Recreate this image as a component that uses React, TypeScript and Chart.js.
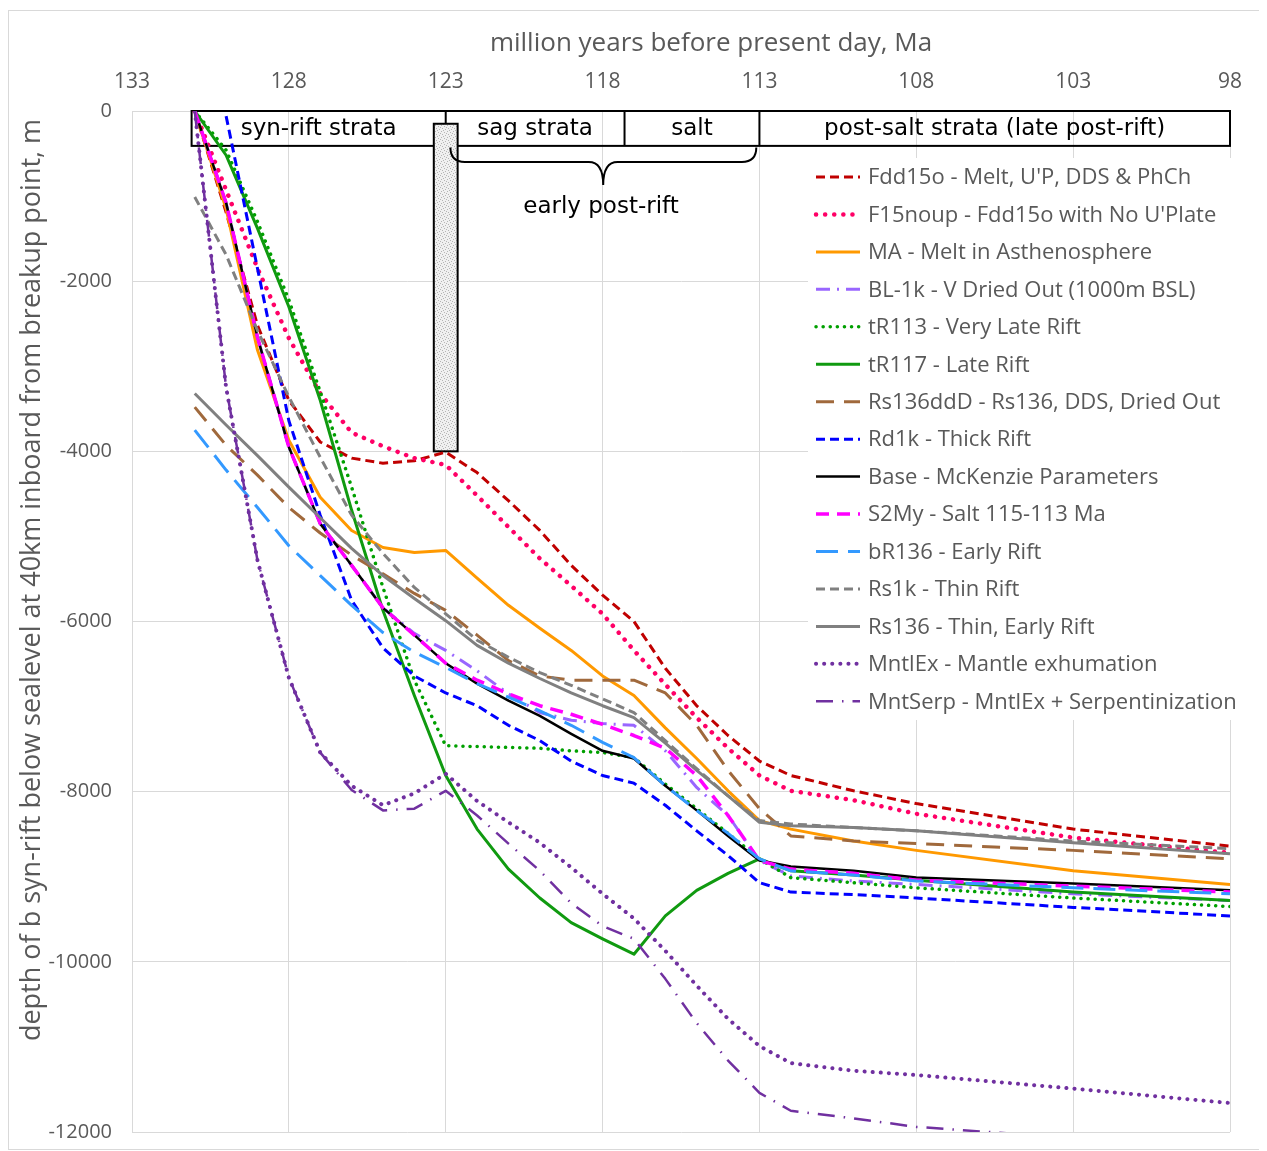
import { useEffect, useRef } from "react";
import { Chart, registerables } from "chart.js";

Chart.register(...registerables);

// ---------- data ----------
const xTickValues = [133, 128, 123, 118, 113, 108, 103, 98];
const yTickValues = [0, -2000, -4000, -6000, -8000, -10000, -12000];

const ageMa = [131, 130, 129, 128, 127, 126, 125, 124, 123, 122, 121, 120, 119, 118, 117, 116, 115, 114, 113, 112, 110, 108, 103, 98];

const fdd15o = [0, -1190, -2520, -3400, -3890, -4080, -4140, -4110, -4010, -4250, -4580, -4930, -5340, -5690, -6000, -6550, -6990, -7340, -7640, -7810, -7990, -8140, -8440, -8640];
const f15noup = [0, -930, -1850, -2670, -3320, -3780, -3940, -4080, -4160, -4520, -4890, -5260, -5580, -5910, -6340, -6740, -7130, -7490, -7810, -7990, -8100, -8260, -8540, -8720];
const maMelt = [0, -1150, -2810, -3870, -4540, -4930, -5130, -5190, -5165, -5490, -5810, -6080, -6340, -6640, -6870, -7250, -7610, -7990, -8340, -8440, -8580, -8690, -8930, -9090];
const bl1k = [0, -1080, -2660, -3950, -4850, -5340, -5840, -6140, -6340, -6580, -6850, -7070, -7160, -7200, -7220, -7520, -7950, -8280, -8810, -8990, -9050, -9090, -9200, -9280];
const tR113 = [0, -460, -1300, -2220, -3300, -4420, -5600, -6690, -7460, -7470, -7480, -7490, -7520, -7540, -7600, -7910, -8200, -8490, -8790, -9010, -9070, -9130, -9250, -9350];
const tR117 = [0, -520, -1380, -2300, -3400, -4690, -5870, -6870, -7810, -8440, -8910, -9250, -9540, -9730, -9910, -9460, -9160, -8960, -8790, -8930, -8980, -9040, -9180, -9280];
const rs136ddD = [-3480, -3930, -4280, -4660, -4960, -5220, -5440, -5670, -5870, -6160, -6460, -6640, -6690, -6690, -6690, -6840, -7220, -7750, -8200, -8520, -8580, -8610, -8690, -8790];
const rd1k = [null, -60, -1850, -3640, -4750, -5750, -6310, -6640, -6840, -6990, -7220, -7400, -7640, -7810, -7900, -8160, -8460, -8750, -9070, -9180, -9210, -9250, -9360, -9460];
const baseMcK = [0, -1080, -2660, -3950, -4850, -5340, -5840, -6160, -6490, -6730, -6930, -7110, -7320, -7520, -7610, -7930, -8220, -8520, -8810, -8880, -8930, -9010, -9080, -9160];
const s2My = [0, -1080, -2660, -3950, -4850, -5340, -5840, -6160, -6490, -6690, -6850, -6990, -7090, -7210, -7340, -7490, -7810, -8280, -8810, -8910, -8960, -9040, -9110, -9180];
const bR136 = [-3750, -4220, -4660, -5110, -5460, -5810, -6130, -6360, -6540, -6730, -6890, -7050, -7220, -7420, -7600, -7930, -8220, -8490, -8790, -8930, -8980, -9050, -9130, -9200];
const rs1k = [-1010, -1690, -2580, -3360, -4070, -4750, -5200, -5600, -5910, -6220, -6420, -6600, -6750, -6910, -7070, -7400, -7730, -8050, -8340, -8380, -8420, -8460, -8580, -8670];
const rs136 = [-3320, -3690, -4050, -4420, -4780, -5140, -5460, -5730, -5990, -6280, -6490, -6670, -6840, -6990, -7130, -7430, -7750, -8050, -8360, -8400, -8420, -8460, -8600, -8730];
const mntlEx = [0, -3250, -5280, -6660, -7540, -7930, -8160, -8020, -7790, -8110, -8360, -8600, -8890, -9200, -9490, -9870, -10280, -10670, -10990, -11190, -11280, -11330, -11490, -11660];
const mntSerp = [0, -3250, -5280, -6660, -7540, -7980, -8220, -8200, -7990, -8280, -8610, -8930, -9310, -9580, -9730, -10200, -10720, -11160, -11540, -11750, -11840, -11940, -12070, -12200];

const seriesNames = [
  "Fdd15o - Melt, U'P, DDS & PhCh",
  "F15noup - Fdd15o with No U'Plate",
  "MA - Melt in Asthenosphere",
  "BL-1k - V Dried Out (1000m BSL)",
  "tR113 - Very Late Rift",
  "tR117 - Late Rift",
  "Rs136ddD - Rs136, DDS, Dried Out",
  "Rd1k - Thick Rift",
  "Base - McKenzie Parameters",
  "S2My - Salt 115-113 Ma",
  "bR136 - Early Rift",
  "Rs1k - Thin Rift",
  "Rs136 - Thin, Early Rift",
  "MntlEx - Mantle exhumation",
  "MntSerp - MntlEx + Serpentinization",
];
const seriesValues = [fdd15o, f15noup, maMelt, bl1k, tR113, tR117, rs136ddD, rd1k, baseMcK, s2My, bR136, rs1k, rs136, mntlEx, mntSerp];

const strataLabels = ["syn-rift strata", "sag strata", "salt", "post-salt strata (late post-rift)"];
const strataBounds = [131.1, 123, 117.3, 113, 98];
const braceLabel = "early post-rift";
const xTitle = "million years before present day, Ma";
const yTitle = "depth of b syn-rift below sealevel at 40km inboard from breakup point, m";

// ---------- styles ----------
type Style = { color: string; width: number; dash: number[]; cap: CanvasLineCap };
const styles: Style[] = [
  { color: "#C00000", width: 3, dash: [9, 5], cap: "butt" },
  { color: "#FF0066", width: 4.5, dash: [0.1, 9], cap: "round" },
  { color: "#FF9900", width: 3, dash: [], cap: "butt" },
  { color: "#9966FF", width: 3, dash: [14, 7, 2, 7], cap: "butt" },
  { color: "#00A000", width: 3.5, dash: [0.1, 7], cap: "round" },
  { color: "#109A10", width: 3, dash: [], cap: "butt" },
  { color: "#A0693C", width: 3, dash: [18, 10], cap: "butt" },
  { color: "#0000FF", width: 3, dash: [9, 5], cap: "butt" },
  { color: "#000000", width: 2.5, dash: [], cap: "butt" },
  { color: "#FF00FF", width: 3.5, dash: [13, 8], cap: "butt" },
  { color: "#3399FF", width: 3, dash: [22, 10], cap: "butt" },
  { color: "#808080", width: 3, dash: [9, 5], cap: "butt" },
  { color: "#808080", width: 3, dash: [], cap: "butt" },
  { color: "#7030A0", width: 4, dash: [0.1, 8], cap: "round" },
  { color: "#7030A0", width: 2.5, dash: [17, 9, 1.5, 9], cap: "butt" },
];

const TEXT_GREY = "#595959";
const GRID = "#D9D9D9";
const CANVAS_W = 1255;
const CANVAS_H = 1138;

function makeStipple(ctx: CanvasRenderingContext2D) {
  const c = document.createElement("canvas");
  c.width = 6;
  c.height = 6;
  const p = c.getContext("2d")!;
  p.fillStyle = "#F0F0F0";
  p.fillRect(0, 0, 6, 6);
  p.fillStyle = "#B4B4B4";
  const dots = [[0, 0], [3, 1], [1, 3], [4, 4], [5, 2], [2, 5]];
  dots.forEach(([a, b]) => p.fillRect(a, b, 1, 1));
  return ctx.createPattern(c, "repeat");
}

const annotationPlugin = {
  id: "strataAnnotations",
  beforeDatasetsDraw(chart: any) {
    const { ctx, scales } = chart;
    const X = (v: number) => scales.x.getPixelForValue(v);
    const Y = (v: number) => scales.y.getPixelForValue(v);
    ctx.save();
    // strata strip
    const yTop = Y(0);
    const yBot = Y(-410);
    ctx.strokeStyle = "#000";
    ctx.lineWidth = 2;
    ctx.strokeRect(X(strataBounds[0]), yTop, X(strataBounds[4]) - X(strataBounds[0]), yBot - yTop);
    for (let i = 1; i < 4; i++) {
      ctx.beginPath();
      ctx.moveTo(X(strataBounds[i]), yTop);
      ctx.lineTo(X(strataBounds[i]), yBot);
      ctx.stroke();
    }
    ctx.fillStyle = "#000";
    ctx.font = "23px 'DejaVu Sans'";
    ctx.textAlign = "center";
    ctx.textBaseline = "middle";
    for (let i = 0; i < 4; i++) {
      const cx = (X(strataBounds[i]) + X(strataBounds[i + 1])) / 2;
      ctx.fillText(strataLabels[i], cx, (yTop + yBot) / 2 + 1);
    }
    // stippled column at 123 Ma
    const cl = X(123.38), cr = X(122.62), ct = Y(-150), cb = Y(-4000);
    ctx.fillStyle = makeStipple(ctx) || "#EEE";
    ctx.fillRect(cl, ct, cr - cl, cb - ct);
    ctx.strokeStyle = "#000";
    ctx.lineWidth = 2;
    ctx.strokeRect(cl, ct, cr - cl, cb - ct);
    // brace
    const xl = X(122.85), xr = X(113.1), xm = X(117.98);
    const bt = Y(-430), bm = Y(-600), bp = Y(-870);
    const r = bm - bt;
    ctx.lineWidth = 2;
    ctx.beginPath();
    ctx.moveTo(xl, bt);
    ctx.quadraticCurveTo(xl, bm, xl + r, bm);
    ctx.lineTo(xm - r, bm);
    ctx.quadraticCurveTo(xm, bm, xm, bp);
    ctx.quadraticCurveTo(xm, bm, xm + r, bm);
    ctx.lineTo(xr - r, bm);
    ctx.quadraticCurveTo(xr, bm, xr, bt);
    ctx.stroke();
    ctx.fillStyle = "#000";
    ctx.fillText(braceLabel, X(118.05), Y(-1130));
    ctx.restore();
  },
  afterDatasetsDraw(chart: any) {
    const { ctx } = chart;
    ctx.save();
    // legend box
    const lx = 799, ly = 147, lw = 428, lh = 562;
    ctx.fillStyle = "#FFFFFF";
    ctx.fillRect(lx, ly, lw, lh);
    const rowH = 37.45;
    ctx.font = "22px 'Open Sans'";
    ctx.textAlign = "left";
    ctx.textBaseline = "middle";
    chart.data.datasets.forEach((ds: any, i: number) => {
      const y = 166 + i * rowH;
      ctx.save();
      ctx.strokeStyle = ds.borderColor;
      ctx.lineWidth = ds.borderWidth;
      ctx.setLineDash(ds.borderDash || []);
      ctx.lineCap = ds.borderCapStyle || "butt";
      ctx.beginPath();
      ctx.moveTo(807, y);
      ctx.lineTo(851, y);
      ctx.stroke();
      ctx.restore();
      ctx.fillStyle = TEXT_GREY;
      ctx.fillText(ds.label, 859, y + 1);
    });
    // x-axis title
    ctx.font = "26px 'Open Sans'";
    ctx.textAlign = "center";
    ctx.fillText(xTitle, 702, 33);
    // y-axis title
    ctx.translate(23, 569);
    ctx.rotate(-Math.PI / 2);
    ctx.font = "27px 'Open Sans'";
    ctx.textAlign = "center";
    ctx.textBaseline = "middle";
    ctx.fillStyle = TEXT_GREY;
    ctx.fillText(yTitle, 0, 0);
    ctx.restore();
  },
};

export default function App() {
  const ref = useRef<HTMLCanvasElement | null>(null);
  useEffect(() => {
    if (!ref.current) return;
    const datasets = seriesValues.map((vals, i) => ({
      label: seriesNames[i],
      data: ageMa.map((x, j) => ({ x, y: vals[j] })),
      borderColor: styles[i].color,
      backgroundColor: styles[i].color,
      borderWidth: styles[i].width,
      borderDash: styles[i].dash,
      borderCapStyle: styles[i].cap,
      borderJoinStyle: "round" as const,
      pointRadius: 0,
      tension: 0,
      fill: false,
      spanGaps: false,
      order: seriesValues.length - i,
    }));
    const chart = new Chart(ref.current, {
      type: "line",
      data: { datasets },
      plugins: [annotationPlugin],
      options: {
        animation: false,
        responsive: false,
        maintainAspectRatio: false,
        layout: { padding: { left: 0, top: 0, right: 34, bottom: 17 } },
        plugins: { legend: { display: false }, tooltip: { enabled: false } },
        scales: {
          x: {
            type: "linear",
            position: "top",
            reverse: true,
            min: 98,
            max: 133,
            afterBuildTicks: (s: any) => {
              s.ticks = xTickValues.map((v) => ({ value: v }));
            },
            afterFit: (s: any) => {
              s.height = 100;
            },
            grid: { color: GRID, lineWidth: 1, drawTicks: true, tickLength: 16, tickColor: "rgba(0,0,0,0)" },
            border: { color: GRID },
            ticks: {
              color: TEXT_GREY,
              font: { family: "'Open Sans'", size: 21 },
              padding: 0.4,
              maxRotation: 0,
              callback: (v: any) => String(v),
            },
            title: { display: false },
          },
          y: {
            type: "linear",
            min: -12000,
            max: 0,
            afterBuildTicks: (s: any) => {
              s.ticks = yTickValues.map((v) => ({ value: v }));
            },
            afterFit: (s: any) => {
              s.width = 123;
            },
            grid: { color: GRID, lineWidth: 1, drawTicks: true, tickLength: 20, tickColor: "rgba(0,0,0,0)" },
            border: { color: GRID },
            ticks: {
              color: TEXT_GREY,
              font: { family: "'Open Sans'", size: 20 },
              padding: 0,
              callback: (v: any) => String(v),
            },
          },
        },
      },
    });
    return () => chart.destroy();
  }, []);
  return (
    <div style={{ paddingTop: 2 }}>
      <div style={{ width: CANVAS_W, height: CANVAS_H, border: `1px solid ${GRID}`, background: "#fff" }}>
        <canvas ref={ref} width={CANVAS_W} height={CANVAS_H} style={{ display: "block" }} />
      </div>
    </div>
  );
}
